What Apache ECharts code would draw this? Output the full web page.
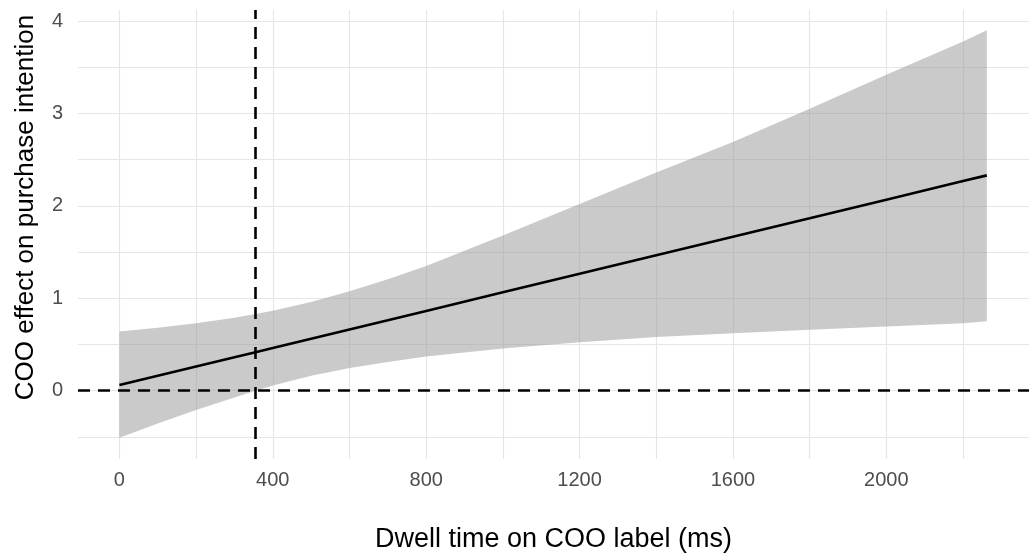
<!DOCTYPE html>
<html>
<head>
<meta charset="utf-8">
<script src="https://cdn.jsdelivr.net/npm/echarts@6/dist/echarts.min.js"></script>
<style>
html,body{margin:0;padding:0;background:#ffffff;}
#chart{width:1029px;height:558px;}
</style>
</head>
<body>
<div id="chart"></div>
<script>
// ---- data ----
const dwellTime = [0, 100, 200, 300, 355, 400, 500, 600, 700, 800, 1000, 1200, 1400, 1600, 1800, 2000, 2200, 2262];
const effect    = [0.06, 0.160, 0.261, 0.361, 0.416, 0.461, 0.562, 0.662, 0.762, 0.863, 1.064, 1.264, 1.465, 1.666, 1.866, 2.067, 2.268, 2.33];
const ciLower   = [-0.51, -0.355, -0.21, -0.075, 0.0, 0.055, 0.16, 0.245, 0.31, 0.37, 0.455, 0.525, 0.58, 0.62, 0.66, 0.695, 0.73, 0.75];
const ciUpper   = [0.64, 0.68, 0.73, 0.79, 0.83, 0.865, 0.96, 1.075, 1.205, 1.35, 1.68, 2.02, 2.36, 2.69, 3.05, 3.42, 3.78, 3.90];

const xGridValues  = [0, 200, 400, 600, 800, 1000, 1200, 1400, 1600, 1800, 2000, 2200];
const xLabelValues = [0, 400, 800, 1200, 1600, 2000];
const yGridValues  = [-0.5, 0, 0.5, 1, 1.5, 2, 2.5, 3, 3.5, 4];
const yLabelValues = [0, 1, 2, 3, 4];

const jnPoint = 355;   // vertical reference line (ms)
const zeroEffect = 0;  // horizontal reference line

const xTitle = 'Dwell time on COO label (ms)';
const yTitle = 'COO effect on purchase intention';

// ---- chart ----
const FONT = "'Liberation Sans', Arial, Helvetica, sans-serif";
const chart = echarts.init(document.getElementById('chart'), null, {renderer: 'canvas'});

const bandData = dwellTime.map((x, i) => [x, ciLower[i], ciUpper[i]]);
const lineData = dwellTime.map((x, i) => [x, effect[i]]);

const option = {
  animation: false,
  backgroundColor: '#ffffff',
  grid: {left: 78, right: -8, top: 10, bottom: 97, containLabel: false},
  xAxis: {
    type: 'value',
    min: -108,
    max: 2372,
    axisLine: {show: false},
    axisTick: {show: false, customValues: xGridValues},
    axisLabel: {
      customValues: xLabelValues,
      formatter: v => String(v),
      color: '#4d4d4d', fontSize: 20, fontFamily: FONT, margin: 11
    },
    splitLine: {show: true, lineStyle: {color: '#e6e6e6', width: 1.2}},
    name: xTitle,
    nameLocation: 'middle',
    nameGap: 67,
    nameTextStyle: {color: '#000000', fontSize: 27, fontFamily: FONT}
  },
  yAxis: {
    type: 'value',
    min: -0.74,
    max: 4.12,
    axisLine: {show: false},
    axisTick: {show: false, customValues: yGridValues},
    axisLabel: {
      customValues: yLabelValues,
      formatter: v => String(v),
      color: '#4d4d4d', fontSize: 20, fontFamily: FONT, margin: 15
    },
    splitLine: {show: true, lineStyle: {color: '#e6e6e6', width: 1.2}},
    name: yTitle,
    nameLocation: 'middle',
    nameGap: 39,
    nameRotate: 90,
    nameTextStyle: {color: '#000000', fontSize: 26, fontFamily: FONT, padding: [0, 0, 0, 54]}
  },
  series: [
    {
      type: 'custom',
      name: 'CI',
      silent: true,
      data: bandData,
      encode: {x: 0, y: [1, 2]},
      z: 1,
      renderItem: function (params, api) {
        if (params.dataIndex !== 0) return null;
        const pts = [];
        for (let i = 0; i < bandData.length; i++) pts.push(api.coord([bandData[i][0], bandData[i][2]]));
        for (let i = bandData.length - 1; i >= 0; i--) pts.push(api.coord([bandData[i][0], bandData[i][1]]));
        return {
          type: 'polygon',
          shape: {points: pts},
          style: {fill: 'rgba(150,150,150,0.5)'}
        };
      }
    },
    {
      type: 'line',
      name: 'Effect',
      data: lineData,
      symbol: 'none',
      z: 3,
      lineStyle: {color: '#000000', width: 2.6},
      markLine: {
        silent: true,
        symbol: ['none', 'none'],
        label: {show: false},
        lineStyle: {color: '#000000', width: 2.6, type: [12, 8]},
        data: [
          {yAxis: zeroEffect},
          {xAxis: jnPoint}
        ]
      }
    }
  ]
};
chart.setOption(option);
</script>
</body>
</html>
